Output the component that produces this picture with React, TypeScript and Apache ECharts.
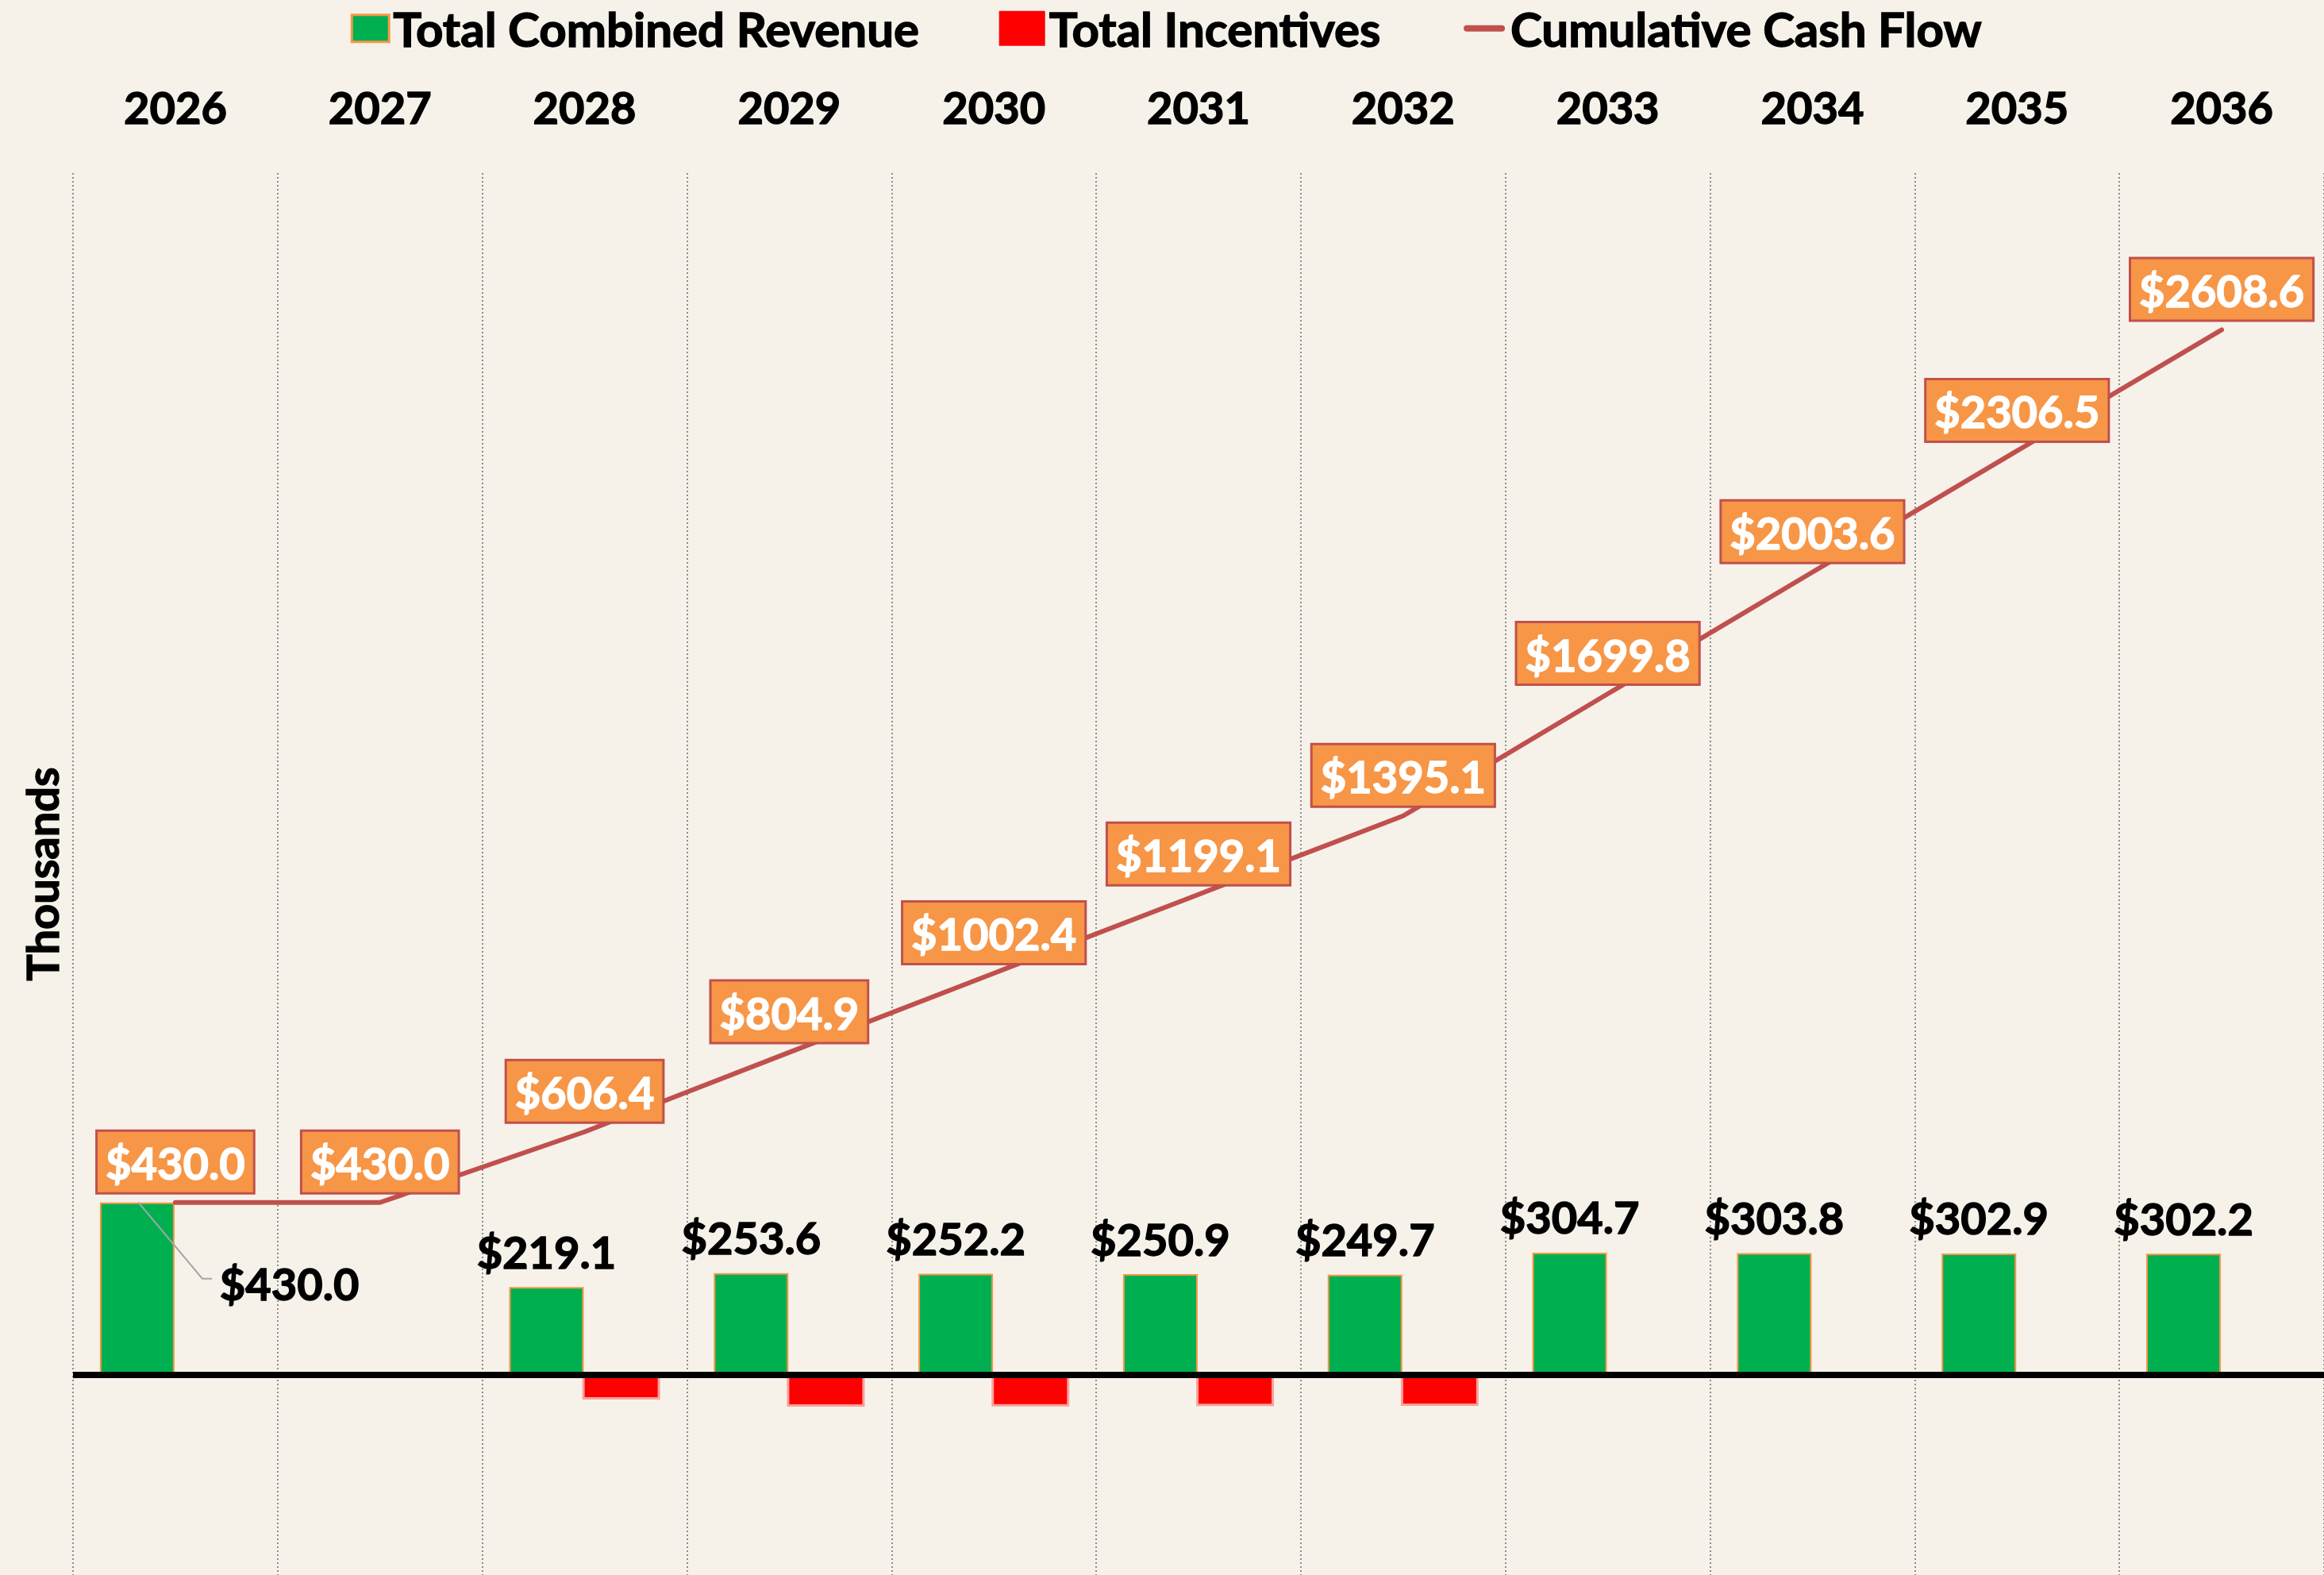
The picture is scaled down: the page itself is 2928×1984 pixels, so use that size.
import React, { useEffect, useRef } from 'react';
import * as echarts from 'echarts';

const years = ['2026', '2027', '2028', '2029', '2030', '2031', '2032', '2033', '2034', '2035', '2036'];
const revenue = [430.0, null, 219.1, 253.6, 252.2, 250.9, 249.7, 304.7, 303.8, 302.9, 302.2];
const incentives = [null, null, -42.7, -55.1, -54.7, -54.2, -53.7, null, null, null, null];
const cumulative = [430.0, 430.0, 606.4, 804.9, 1002.4, 1199.1, 1395.1, 1699.8, 2003.6, 2306.5, 2608.6];

const FONT = 'Lato';
const money = (v: any) => (v == null || v === '-' || isNaN(Number(v)) ? '' : '$' + Number(v).toFixed(1));

export default function App() {
  const ref = useRef<HTMLDivElement>(null);
  useEffect(() => {
    const chart = echarts.init(ref.current!, null, { renderer: 'svg' });
    const blackText = {
      fontSize: 56,
      fontWeight: 'bold',
      color: '#000',
      fontFamily: FONT,
      textBorderColor: '#000',
      textBorderWidth: 1.4,
    };
    chart.setOption({
      animation: false,
      backgroundColor: '#F6F2EA',
      textStyle: { fontFamily: FONT },
      legend: {
        top: 0,
        left: 'center',
        itemGap: 100,
        itemWidth: 58,
        itemHeight: 44,
        selectedMode: false,
        textStyle: { ...blackText, fontSize: 60 },
        data: [
          {
            name: 'Total Combined Revenue',
            icon: 'path://M0,0 M58,44 M11,5 L58,5 L58,39 L11,39 Z',
            itemStyle: { color: '#00B050', borderColor: '#F79646', borderWidth: 3 },
          },
          { name: 'Total Incentives', icon: 'rect', itemStyle: { color: '#FF0000', borderWidth: 0 } },
          {
            name: 'Cumulative Cash Flow',
            icon: 'path://M0,0 M58,44 M8,18 L52,18 A4,4 0 0 1 52,26 L8,26 A4,4 0 0 1 8,18 Z',
            itemStyle: { color: '#C0504D', borderWidth: 0 },
          },
        ],
      },
      grid: { left: 92, right: 0, top: 218, height: 1771 },
      xAxis: {
        type: 'category',
        position: 'top',
        data: years,
        axisLine: { show: false },
        axisTick: { show: false },
        axisLabel: { margin: 56, ...blackText },
        splitLine: { show: true, interval: 0, lineStyle: { color: '#8C8C8C', width: 2, type: [2, 3] } },
      },
      yAxis: [
        {
          type: 'value',
          min: -500,
          max: 3000,
          name: 'Thousands',
          nameLocation: 'middle',
          nameGap: 12,
          nameTextStyle: blackText,
          axisLabel: { show: false },
          axisLine: { show: false },
          axisTick: { show: false },
          splitLine: { show: false },
        },
        {
          type: 'value',
          min: -345,
          max: 2070,
          show: false,
          axisLabel: { show: false },
          axisLine: { show: false },
          axisTick: { show: false },
          splitLine: { show: false },
        },
      ],
      series: [
        {
          name: 'Total Combined Revenue',
          type: 'bar',
          barWidth: 94,
          barGap: '-2%',
          itemStyle: { color: '#00B050', borderColor: '#F79646', borderWidth: 2 },
          label: {
            show: true,
            position: 'top',
            distance: 17,
            formatter: (p: any) => money(p.value),
            ...blackText,
          },
          data: revenue.map((v, i) =>
            i === 0 ? { value: v, label: { position: 'right', distance: 57, offset: [0, -7] } } : v
          ),
        },
        {
          name: 'Total Incentives',
          type: 'bar',
          yAxisIndex: 1,
          barWidth: 98,
          barGap: '-2%',
          itemStyle: { color: '#FF0000', borderColor: '#F7A29C', borderWidth: 3 },
          data: incentives,
        },
        {
          name: 'Cumulative Cash Flow',
          type: 'line',
          z: 3,
          data: cumulative,
          symbol: 'circle',
          symbolSize: 2,
          showSymbol: true,
          lineStyle: { color: '#C0504D', width: 6, cap: 'round' },
          itemStyle: { color: '#C0504D' },
          label: {
            show: true,
            position: 'top',
            distance: 12,
            formatter: (p: any) => money(p.value),
            fontSize: 56,
            fontWeight: 'bold',
            color: '#FFFFFF',
            fontFamily: FONT,
            textBorderColor: '#FFFFFF',
            textBorderWidth: 1.4,
            backgroundColor: '#F79646',
            borderColor: '#C0504D',
            borderWidth: 3,
            padding: [11, 10, 9, 10],
          },
          markLine: {
            silent: true,
            symbol: ['none', 'none'],
            label: { show: false },
            lineStyle: { color: '#000000', width: 8, type: 'solid' },
            emphasis: { disabled: true },
            data: [{ yAxis: 0 }],
          },
        },
        {
          name: 'leader',
          type: 'custom',
          z: 4,
          silent: true,
          data: [[0, revenue[0]]],
          renderItem: (params: any, api: any) => {
            const p = api.coord([api.value(0), api.value(1)]);
            const band = api.size([1, 0])[0];
            const x0 = p[0] - band * 0.18;
            return {
              type: 'polyline',
              shape: { points: [[x0, p[1]], [p[0] + 34, p[1] + 96], [p[0] + 46, p[1] + 96]] },
              style: { stroke: '#A6A6A6', lineWidth: 2, fill: 'none' },
            };
          },
        },
      ],
    });
    return () => chart.dispose();
  }, []);
  return <div ref={ref} style={{ position: 'fixed', left: 0, top: 0, width: 2928, height: 1984 }} />;
}
